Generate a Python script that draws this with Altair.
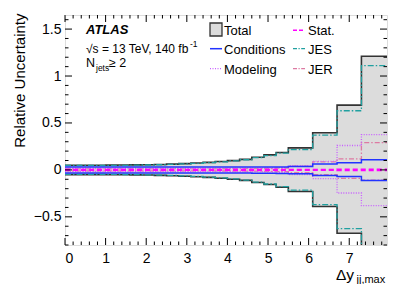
import altair as alt
import pandas as pd

# ---- data ----
edges = [0, 0.4, 0.7, 1.0, 1.3, 1.6, 1.9, 2.2, 2.5, 2.8, 3.1, 3.4, 3.7, 4.0,
         4.3, 4.6, 4.9, 5.2, 5.5, 6.1, 6.7, 7.3, 7.93]

total_up = [0.050, 0.050, 0.050, 0.051, 0.052, 0.053, 0.055, 0.058, 0.062, 0.067, 0.073,
            0.080, 0.089, 0.099, 0.112, 0.135, 0.160, 0.185, 0.235, 0.395, 0.690, 1.210]
total_dn = [-0.050, -0.050, -0.050, -0.051, -0.052, -0.053, -0.055, -0.058, -0.062, -0.067, -0.073,
            -0.080, -0.089, -0.099, -0.112, -0.135, -0.155, -0.185, -0.230, -0.390, -0.675, -1.000]
jes_up = [0.047, 0.047, 0.047, 0.048, 0.049, 0.050, 0.052, 0.055, 0.059, 0.064, 0.070,
          0.077, 0.086, 0.096, 0.108, 0.130, 0.152, 0.178, 0.215, 0.370, 0.630, 1.110]
jes_dn = [-0.047, -0.047, -0.047, -0.048, -0.049, -0.050, -0.052, -0.055, -0.059, -0.064, -0.070,
          -0.077, -0.086, -0.096, -0.108, -0.130, -0.150, -0.178, -0.215, -0.370, -0.625, -0.950]
cond_up = [0.030, 0.030, 0.030, 0.030, 0.030, 0.030, 0.030, 0.030, 0.030, 0.030, 0.030,
           0.030, 0.030, 0.031, 0.031, 0.031, 0.032, 0.032, 0.035, 0.062, 0.075, 0.108]
cond_dn = [-0.032, -0.032, -0.032, -0.032, -0.032, -0.032, -0.032, -0.032, -0.032, -0.033, -0.033,
           -0.033, -0.033, -0.034, -0.034, -0.035, -0.036, -0.038, -0.042, -0.060, -0.070, -0.113]
model_up = [0.015, 0.015, 0.015, 0.015, 0.015, 0.015, 0.015, 0.015, 0.015, 0.015, 0.015,
            0.016, 0.016, 0.017, 0.018, 0.019, 0.020, 0.025, 0.045, 0.090, 0.260, 0.375]
model_dn = [-0.015, -0.015, -0.015, -0.015, -0.015, -0.015, -0.015, -0.015, -0.015, -0.015, -0.015,
            -0.016, -0.016, -0.017, -0.018, -0.019, -0.020, -0.025, -0.050, -0.092, -0.246, -0.380]
jer_up = [0.010, 0.010, 0.010, 0.010, 0.010, 0.010, 0.010, 0.010, 0.010, 0.010, 0.011,
          0.011, 0.012, 0.012, 0.013, 0.014, 0.015, 0.018, 0.040, 0.085, 0.117, 0.290]
jer_dn = [-0.010, -0.010, -0.010, -0.010, -0.010, -0.010, -0.010, -0.010, -0.010, -0.010, -0.011,
          -0.011, -0.012, -0.012, -0.013, -0.014, -0.015, -0.018, -0.030, -0.050, -0.090, -0.110]
stat_up = [0.003, 0.003, 0.003, 0.003, 0.003, 0.003, 0.003, 0.003, 0.003, 0.003, 0.003,
           0.003, 0.003, 0.003, 0.003, 0.003, 0.004, 0.004, 0.005, 0.005, 0.006, 0.006]
stat_dn = [-0.003, -0.003, -0.003, -0.003, -0.003, -0.003, -0.003, -0.003, -0.003, -0.003, -0.003,
           -0.003, -0.003, -0.003, -0.003, -0.003, -0.004, -0.004, -0.005, -0.005, -0.006, -0.006]

x_major = [0, 1, 2, 3, 4, 5, 6, 7]
x_minor = [0.2, 0.4, 0.6, 0.8, 1.2, 1.4, 1.6, 1.8, 2.2, 2.4, 2.6, 2.8, 3.2, 3.4, 3.6, 3.8,
           4.2, 4.4, 4.6, 4.8, 5.2, 5.4, 5.6, 5.8, 6.2, 6.4, 6.6, 6.8, 7.2, 7.4, 7.6, 7.8]
y_major = [-0.5, 0, 0.5, 1, 1.5]
y_minor = [-0.8, -0.7, -0.6, -0.4, -0.3, -0.2, -0.1, 0.1, 0.2, 0.3, 0.4, 0.6, 0.7, 0.8, 0.9,
           1.1, 1.2, 1.3, 1.4, 1.6]

W, H = 322, 230
FONT = "Liberation Sans"
XDOM = [0, 7.93]
YDOM = [-0.8, 1.65]


def X(field):
    return alt.X(f"{field}:Q", scale=alt.Scale(domain=XDOM, nice=False, zero=False),
                 axis=alt.Axis(values=x_major, format="d", title=None, ticks=False, tickSize=0,
                               domain=False, grid=False, labelFont=FONT, labelFontSize=14,
                               labelPadding=6, labelColor="black"))


def Y(field):
    return alt.Y(f"{field}:Q", scale=alt.Scale(domain=YDOM, nice=False, zero=False),
                 axis=alt.Axis(values=y_major, format="~g", title=None, ticks=False, tickSize=0,
                               domain=False, grid=False, labelFont=FONT, labelFontSize=14,
                               labelPadding=4, labelColor="black"))


def ext(vals):
    return list(vals) + [vals[-1]]


def band_df(up, dn):
    rows = []
    for side, vals in (("up", up), ("dn", dn)):
        for xv, yv in zip(edges, ext(vals)):
            rows.append({"x": xv, "y": yv, "side": side})
    return pd.DataFrame(rows)


def band_line(up, dn, color, width, dash=None):
    kw = dict(interpolate="step-after", color=color, strokeWidth=width, clip=True)
    if dash:
        kw["strokeDash"] = dash
    return alt.Chart(band_df(up, dn)).mark_line(**kw).encode(x=X("x"), y=Y("y"), detail="side:N")


area_df = pd.DataFrame({"x": edges, "up": ext(total_up), "dn": ext(total_dn)})
area = alt.Chart(area_df).mark_area(interpolate="step-after", color="#dcdcdc", opacity=1,
                                    clip=True).encode(x=X("x"), y=Y("up"), y2="dn:Q")

C_TOTAL = "#333333"
C_COND = "#2233ff"
C_MOD = "#c860ff"
C_STAT = "#ff00ff"
C_JES = "#20a0a0"
C_JER = "#dd7aa2"

D_MOD = [1, 1.5]
D_STAT = [5, 3]
D_JES = [6, 2, 1.5, 2]
D_JER = [5, 2, 1.5, 2]

layers = [
    area,
    band_line(total_up, total_dn, C_TOTAL, 1.6),
    band_line(jes_up, jes_dn, C_JES, 1.3, D_JES),
    band_line(jer_up, jer_dn, C_JER, 1.3, D_JER),
    band_line(model_up, model_dn, C_MOD, 1.3, D_MOD),
    band_line(cond_up, cond_dn, C_COND, 1.5),
    band_line(stat_up, stat_dn, C_STAT, 1.5, D_STAT),
]

# ---- inward ticks on all four sides ----
def yticks(vals, length):
    df = pd.DataFrame({"v": vals})
    left = alt.Chart(df).mark_rule(color="black", strokeWidth=1).encode(
        y=Y("v"), x=alt.value(0), x2=alt.value(length))
    right = alt.Chart(df).mark_rule(color="black", strokeWidth=1).encode(
        y=Y("v"), x=alt.value(W), x2=alt.value(W - length))
    return [left, right]


def xticks(vals, length):
    df = pd.DataFrame({"v": vals})
    bottom = alt.Chart(df).mark_rule(color="black", strokeWidth=1).encode(
        x=X("v"), y=alt.value(H), y2=alt.value(H - length))
    top = alt.Chart(df).mark_rule(color="black", strokeWidth=1).encode(
        x=X("v"), y=alt.value(0), y2=alt.value(length))
    return [bottom, top]


layers += yticks(y_major, 7) + yticks(y_minor, 3.5) + xticks(x_major, 7) + xticks(x_minor, 3.5)

one = pd.DataFrame({"a": [0]})


def label(txt, x, y, size, align="left", **kw):
    return alt.Chart(one).mark_text(text=txt, align=align, baseline="alphabetic", font=FONT,
                                    fontSize=size, color="black", **kw).encode(
        x=alt.value(x), y=alt.value(y))


def seg(x1, x2, y, color, width, dash=None):
    kw = dict(color=color, strokeWidth=width)
    if dash:
        kw["strokeDash"] = dash
    return alt.Chart(one).mark_rule(**kw).encode(x=alt.value(x1), x2=alt.value(x2), y=alt.value(y))


LEG = 13
legend = [
    alt.Chart(one).mark_rect(fill="#dcdcdc", stroke=C_TOTAL, strokeWidth=1.3).encode(
        x=alt.value(145), x2=alt.value(157), y=alt.value(8), y2=alt.value(21)),
    label("Total", 159, 19.5, LEG),
    seg(145, 157, 33.7, C_COND, 1.5),
    label("Conditions", 159, 39, LEG),
    seg(145, 157, 53.7, C_MOD, 1.3, D_MOD),
    label("Modeling", 159, 58.5, LEG),
    seg(228, 240, 15.3, C_STAT, 1.5, [4, 2]),
    label("Stat.", 243, 19.5, LEG),
    seg(228, 240, 33.7, C_JES, 1.3, [4, 1.5, 1.2, 1.5]),
    label("JES", 243, 39, LEG),
    seg(228, 240, 53.7, C_JER, 1.3, [4, 1.5, 1.2, 1.5]),
    label("JER", 243, 58.5, LEG),
]

texts = [
    label("ATLAS", 21, 19, 13, fontWeight="bold", fontStyle="italic"),
    label("\u221as = 13 TeV, 140 fb", 21, 38.3, 12),
    label("-1", 125, 31.5, 8.5),
    label("N", 21, 51.7, 12.5),
    label("jets", 31, 56, 8.5),
    label("\u2265 2", 44, 51.7, 12.5),
    label("Relative Uncertainty", -40, -1.5, 15, align="right", angle=270),
    label("\u0394y", 271, 265, 15.5),
    label("jj,max", 291.5, 267.5, 11),
]

chart = alt.layer(*(layers + legend + texts)).properties(
    width=W, height=H,
    autosize=alt.AutoSizeParams(type="none"),
    padding={"left": 57, "top": 7, "right": 12, "bottom": 39},
).configure_view(stroke="black", strokeWidth=1.2).configure(background="white")

chart.save("out.html", embed_options={"renderer": "svg", "actions": False})
